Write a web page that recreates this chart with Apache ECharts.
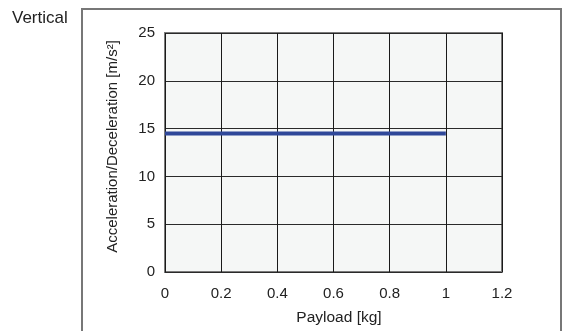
<!DOCTYPE html>
<html>
<head>
<meta charset="utf-8">
<script src="https://cdn.jsdelivr.net/npm/echarts@6/dist/echarts.min.js"></script>
<style>
  html, body { margin: 0; padding: 0; background: #fff; }
  #chart { width: 565px; height: 331px; }
</style>
</head>
<body>
<div id="chart"></div>
<script>
// Rated acceleration/deceleration versus payload, vertical mounting
const payload = [0, 1];
const accel = [14.5, 14.5];
const xTicks = { min: 0, max: 1.2, step: 0.2 };
const yTicks = { min: 0, max: 25, step: 5 };
const titleText = 'Vertical';
const xName = 'Payload [kg]';
const yName = 'Acceleration/Deceleration [m/s²]';

const FONT = '"Liberation Sans", Arial, Helvetica, sans-serif';
const chart = echarts.init(document.getElementById('chart'), null, { renderer: 'canvas' });

chart.setOption({
  animation: false,
  textStyle: { fontFamily: FONT },
  graphic: [
    {
      type: 'rect',
      shape: { x: 82, y: 9, width: 479, height: 340 },
      style: { fill: 'none', stroke: '#777', lineWidth: 2 },
      z: 0
    },
    {
      type: 'text',
      left: 12, top: 10,
      style: { text: titleText, fontSize: 17, fill: '#222', fontFamily: FONT }
    }
  ],
  grid: {
    left: 165, top: 33, width: 337, height: 240,
    show: true,
    backgroundColor: '#f5f7f6',
    borderColor: '#7a7a7a',
    borderWidth: 2
  },
  xAxis: {
    type: 'value',
    min: xTicks.min, max: xTicks.max, interval: xTicks.step,
    name: xName,
    nameLocation: 'middle',
    nameGap: 38,
    nameTextStyle: { fontSize: 15.5, color: '#222', fontFamily: FONT, padding: [0, 0, 0, 11] },
    axisLine: { show: false },
    axisTick: { show: false },
    axisLabel: { fontSize: 15, color: '#222', margin: 14, fontFamily: FONT,
      formatter: v => String(+v.toFixed(1)) },
    splitLine: { show: true, lineStyle: { color: '#1a1a1a', width: 1 } }
  },
  yAxis: {
    type: 'value',
    min: yTicks.min, max: yTicks.max, interval: yTicks.step,
    name: yName,
    nameLocation: 'middle',
    nameGap: 45,
    nameRotate: 90,
    nameTextStyle: { fontSize: 15, color: '#222', fontFamily: FONT, padding: [0, 0, 0, 12] },
    axisLine: { show: false },
    axisTick: { show: false },
    axisLabel: { fontSize: 15, color: '#222', margin: 10, fontFamily: FONT },
    splitLine: { show: true, lineStyle: { color: '#2a2a2a', width: 1 } }
  },
  series: [{
    type: 'line',
    data: payload.map((p, i) => [p, accel[i]]),
    showSymbol: false,
    lineStyle: { color: '#2f4899', width: 4 },
    z: 5
  }]
});
</script>
</body>
</html>
